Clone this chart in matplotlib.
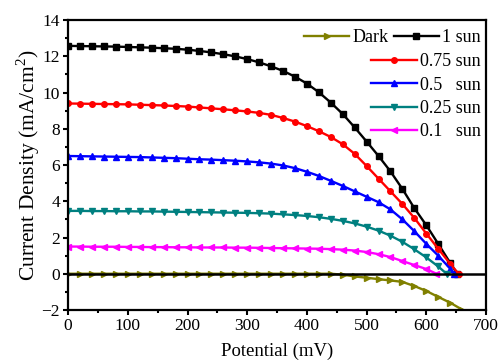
import matplotlib
matplotlib.use("Agg")
import matplotlib.pyplot as plt

plt.rcParams['font.family'] = ['Liberation Serif', 'DejaVu Serif']
plt.rcParams['mathtext.fontset'] = 'custom'
plt.rcParams['mathtext.rm'] = 'Liberation Serif'

v_dark = list(range(0, 680, 20))
j_dark = [0, 0, 0, 0, 0, 0, 0, 0, 0, 0, 0, 0, 0, 0, 0, 0, 0, 0, 0, 0, 0, 0,
          0, -0.05, -0.15, -0.22, -0.30, -0.37, -0.45, -0.68, -0.95, -1.28, -1.60, -1.98]

v_1 = list(range(0, 660, 20)) + [652]
j_1 = [12.58, 12.57, 12.56, 12.55, 12.54, 12.52, 12.50, 12.48, 12.45, 12.42, 12.37,
       12.30, 12.22, 12.12, 12.00, 11.85, 11.67, 11.45, 11.20, 10.88, 10.50, 10.02,
       9.45, 8.82, 8.08, 7.30, 6.50, 5.65, 4.68, 3.62, 2.68, 1.65, 0.60, 0.0]

v_075 = list(range(0, 660, 20)) + [654]
j_075 = [9.40, 9.39, 9.38, 9.37, 9.36, 9.35, 9.33, 9.31, 9.29, 9.26, 9.23,
         9.18, 9.13, 9.08, 9.02, 8.96, 8.88, 8.77, 8.60, 8.40, 8.15, 7.87,
         7.55, 7.15, 6.62, 5.95, 5.25, 4.55, 3.85, 3.08, 2.22, 1.38, 0.55, 0.0]

v_05 = list(range(0, 660, 20)) + [647]
j_05 = [6.50, 6.49, 6.48, 6.47, 6.46, 6.45, 6.44, 6.42, 6.40, 6.38, 6.35,
        6.32, 6.30, 6.27, 6.24, 6.20, 6.15, 6.08, 5.98, 5.83, 5.63, 5.40,
        5.13, 4.85, 4.55, 4.25, 3.95, 3.55, 3.00, 2.35, 1.65, 1.00, 0.28, 0.0]

v_025 = list(range(0, 640, 20)) + [634]
j_025 = [3.47, 3.47, 3.46, 3.46, 3.45, 3.45, 3.44, 3.44, 3.43, 3.42, 3.41,
         3.40, 3.39, 3.38, 3.37, 3.36, 3.34, 3.32, 3.28, 3.24, 3.19, 3.12,
         3.03, 2.92, 2.78, 2.60, 2.38, 2.10, 1.76, 1.35, 0.90, 0.40, 0.0]

v_01 = list(range(0, 620, 20)) + [617]
j_01 = [1.50, 1.50, 1.49, 1.49, 1.49, 1.48, 1.48, 1.47, 1.47, 1.46, 1.46,
        1.45, 1.45, 1.45, 1.44, 1.44, 1.43, 1.42, 1.41, 1.40, 1.39, 1.38,
        1.36, 1.33, 1.28, 1.20, 1.08, 0.92, 0.70, 0.48, 0.26, 0.0]

series = [
    ("Dark", v_dark, j_dark, '#808000', '>'),
    ("1 sun", v_1, j_1, '#000000', 's'),
    ("0.75 sun", v_075, j_075, '#FF0000', 'o'),
    ("0.5   sun", v_05, j_05, '#0000FF', '^'),
    ("0.25 sun", v_025, j_025, '#008080', 'v'),
    ("0.1   sun", v_01, j_01, '#FF00FF', '<'),
]

W, H = 501, 360
fig = plt.figure(figsize=(W / 100, H / 100), dpi=100)
ax = fig.add_axes([0.136, 0.139, 0.834, 0.805])

ax.axhline(0, color='black', lw=1.8, zorder=3)

handles = []
for label, v, j, c, m in series:
    h, = ax.plot(v, j, color=c, marker=m, ms=4.0, lw=1.7, label=label, zorder=2)
    handles.append(h)

ax.set_xlim(0, 700)
ax.set_ylim(-2, 14)
ax.set_xticks(range(0, 701, 100))
ax.set_yticks(range(-2, 15, 2))
ax.set_xticks(range(50, 700, 100), minor=True)
ax.set_yticks(range(-1, 14, 2), minor=True)
ax.tick_params(which='major', direction='out', length=3.8, width=1.5, labelsize=12.5,
               colors='black', pad=2)
ax.tick_params(which='minor', direction='out', length=2.2, width=1.5)
for s in ax.spines.values():
    s.set_linewidth(1.6)

ax.set_xlabel('Potential (mV)', fontsize=13.5, labelpad=6)
ax.set_ylabel('Current Density (mA/cm$^2$)', fontsize=15.5, labelpad=0)

labels = [s[0] for s in series]
common = dict(frameon=False, fontsize=13, handlelength=2.5, handletextpad=0.2,
              columnspacing=0.25, labelspacing=0.36, borderaxespad=0,
              borderpad=0, loc='upper right', bbox_transform=fig.transFigure)
leg1 = ax.legend(handles[:2], labels[:2], ncol=2,
                 bbox_to_anchor=(481 / W, 1 - 29 / H), **common)
ax.add_artist(leg1)
ax.legend(handles[2:], labels[2:], ncol=1,
          bbox_to_anchor=(481 / W, 1 - 53 / H), **common)

fig.savefig('out.png', dpi=100)
